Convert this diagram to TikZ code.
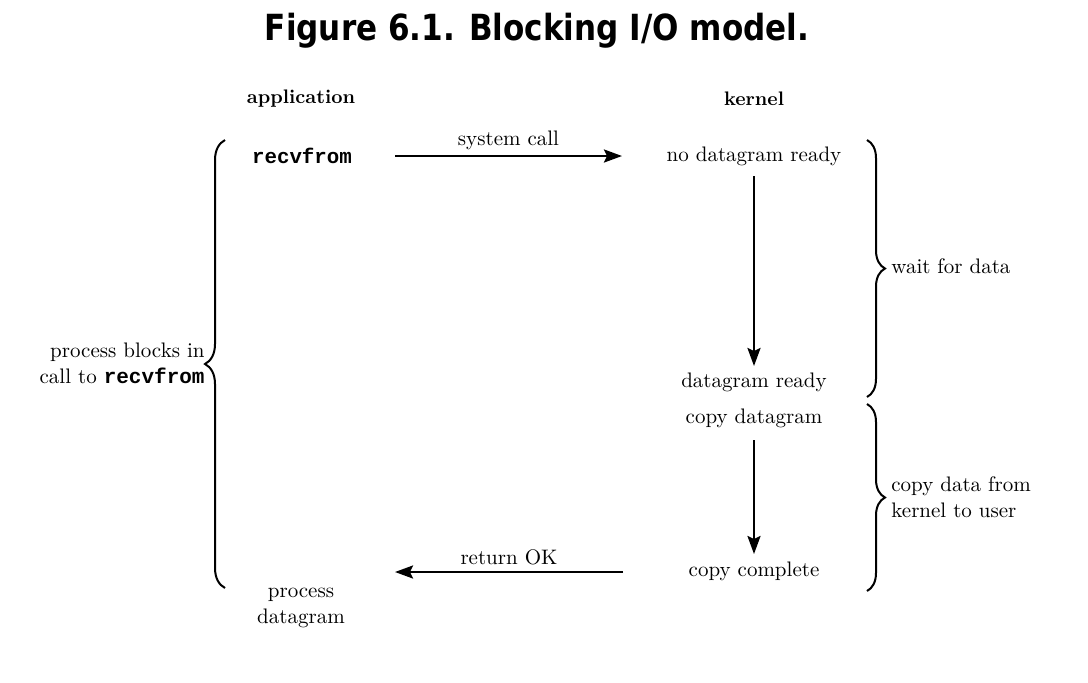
\documentclass[tikz,border=0pt]{standalone}
\usepackage{fontspec}
\newfontfamily\titlefont{DejaVu Sans}
\newfontfamily\codefont{Liberation Mono}
\usetikzlibrary{arrows.meta,decorations.pathreplacing}
\begin{document}
\begin{tikzpicture}[x=0.5pt,y=-0.5pt,
  txt/.style={inner sep=0pt,font=\fontsize{10.5pt}{13pt}\selectfont},
  hdr/.style={inner sep=0pt,font=\fontsize{9.8pt}{12pt}\selectfont\bfseries},
  code/.style={inner sep=0pt,font=\fontsize{10.4pt}{12pt}\selectfont\codefont\bfseries},
  arr/.style={line width=1.2pt,-{Stealth[length=9pt,width=6.5pt,inset=1.5pt]}},
  brc/.style={line width=1pt,decorate,decoration={brace,amplitude=10pt}},
  brcr/.style={line width=1pt,decorate,decoration={brace,amplitude=9pt}}]
\useasboundingbox (0,0) rectangle (1088,682);
\node[inner sep=0pt,font=\titlefont\bfseries\fontsize{18pt}{22pt}\selectfont] (title) at (537,31) {\scalebox{0.862}[1]{Figure 6.1. Blocking I/O model.}};
\node[hdr] (app) at (301,99) {application};
\node[hdr] (kern) at (754,99) {kernel};
\node[code] (recv) at (302,156) {recvfrom};
\node[txt] (nodg) at (754,156) {no datagram ready};
\node[txt] (dgr) at (754,382) {datagram ready};
\node[txt] (cpdg) at (754,418) {copy datagram};
\node[txt] (cpc) at (754,571) {copy complete};
\node[txt,align=center] (proc) at (301,608) {process\\datagram};
\node[txt,align=right,anchor=east] (blk) at (205,363) {process blocks in\\call to {\codefont\bfseries recvfrom}};
\node[txt,anchor=west] (wait) at (891,266) {wait for data};
\node[txt,align=left,anchor=west] (cpk) at (891,497) {copy data from\\kernel to user};
\coordinate (sysA) at (395,156);
\coordinate (sysB) at (622,156);
\coordinate (retA) at (623,572);
\coordinate (retB) at (395,572);
\draw[arr] (sysA) -- node[txt,above=2.5pt] (sysl) {system call} (sysB);
\draw[arr] (retA) -- node[txt,above=3pt] (retl) {return OK} (retB);
\coordinate (v1a) at (754,176);
\coordinate (v1b) at (754,366);
\coordinate (v2a) at (754,440);
\coordinate (v2b) at (754,554);
\draw[arr] (v1a) -- (v1b);
\draw[arr] (v2a) -- (v2b);
\coordinate (lbA) at (225,588);
\coordinate (lbB) at (225,140);
\draw[brc] (lbA) -- (lbB);
\coordinate (rb1A) at (867,140);
\coordinate (rb1B) at (867,397);
\coordinate (rb2A) at (867,404);
\coordinate (rb2B) at (867,591);
\draw[brcr] (rb1A) -- (rb1B);
\draw[brcr] (rb2A) -- (rb2B);
\end{tikzpicture}
\end{document}
